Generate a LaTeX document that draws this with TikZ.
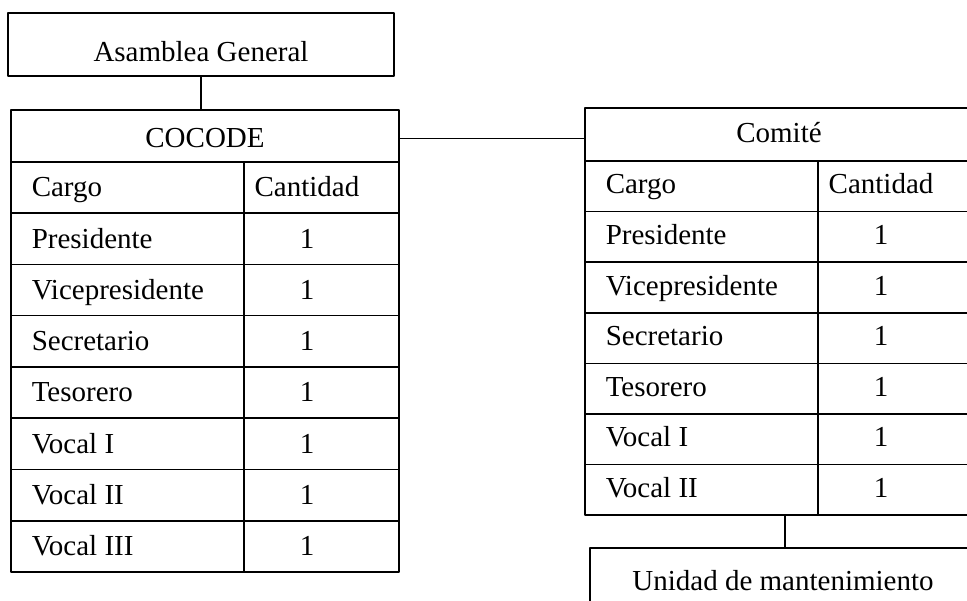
\documentclass[tikz,border=0pt]{standalone}
\usepackage{fontspec}
\setmainfont{Liberation Serif}
\begin{document}
\begin{tikzpicture}[x=1pt,y=-1pt,line width=1.5pt,line join=round,
  box/.style={draw,inner sep=0pt},
  celltext/.style={inner sep=0pt,anchor=base,font=\fontsize{29}{35}\selectfont},
  cargotext/.style={celltext,anchor=base west}]
\useasboundingbox (0,0) rectangle (967,601);
\clip (0,0) rectangle (967,601);

% Asamblea General
\node[box,minimum width=386pt,minimum height=63pt] (asamblea) at (201,44.5) {};
\node[celltext] (asambleatext) at (201,62) {Asamblea General};

% COCODE
\node[box,minimum width=388pt,minimum height=462pt] (cocodetab) at (205,341) {};
\node[celltext] (cocode) at (205,148) {COCODE};
\draw (11,162) -- (399,162) (244,162) -- (244,572);
\foreach \k in {1,...,7} \draw (11,{162+51.25*\k}) -- (399,{162+51.25*\k});
\foreach \cargo/\cant [count=\k from 0] in {Cargo/Cantidad,Presidente/1,Vicepresidente/1,Secretario/1,Tesorero/1,Vocal I/1,Vocal II/1,Vocal III/1}{
  \node[cargotext] (cocode-cargo-\k) at (31,{197+51.25*\k}) {\cargo};
  \node[celltext] (cocode-cant-\k) at (307,{197+51.25*\k}) {\cant};
}

% Comite
\node[box,minimum width=388pt,minimum height=407pt] (comitetab) at (779,311.5) {};
\node[celltext] (comite) at (779,143) {Comité};
\draw (585,161) -- (973,161) (818,161) -- (818,515);
\foreach \k in {1,...,6} \draw (585,{161+50.6*\k}) -- (973,{161+50.6*\k});
\foreach \cargo/\cant [count=\k from 0] in {Cargo/Cantidad,Presidente/1,Vicepresidente/1,Secretario/1,Tesorero/1,Vocal I/1,Vocal II/1}{
  \node[cargotext] (comite-cargo-\k) at (605,{194+50.6*\k}) {\cargo};
  \node[celltext] (comite-cant-\k) at (881,{194+50.6*\k}) {\cant};
}

% Unidad de mantenimiento
\node[box,minimum width=386pt,minimum height=58pt] (unidad) at (783,577) {};
\node[celltext] (unidadtext) at (783,590) {Unidad de mantenimiento};

% connectors
\draw (asamblea.south) -- (asamblea.south |- cocodetab.north);
\draw (cocodetab.east |- cocode.center) -- (comitetab.west |- cocode.center);
\draw ([xshift=6pt]comitetab.south) -- ([xshift=6pt]comitetab.south |- unidad.north);
\end{tikzpicture}
\end{document}
